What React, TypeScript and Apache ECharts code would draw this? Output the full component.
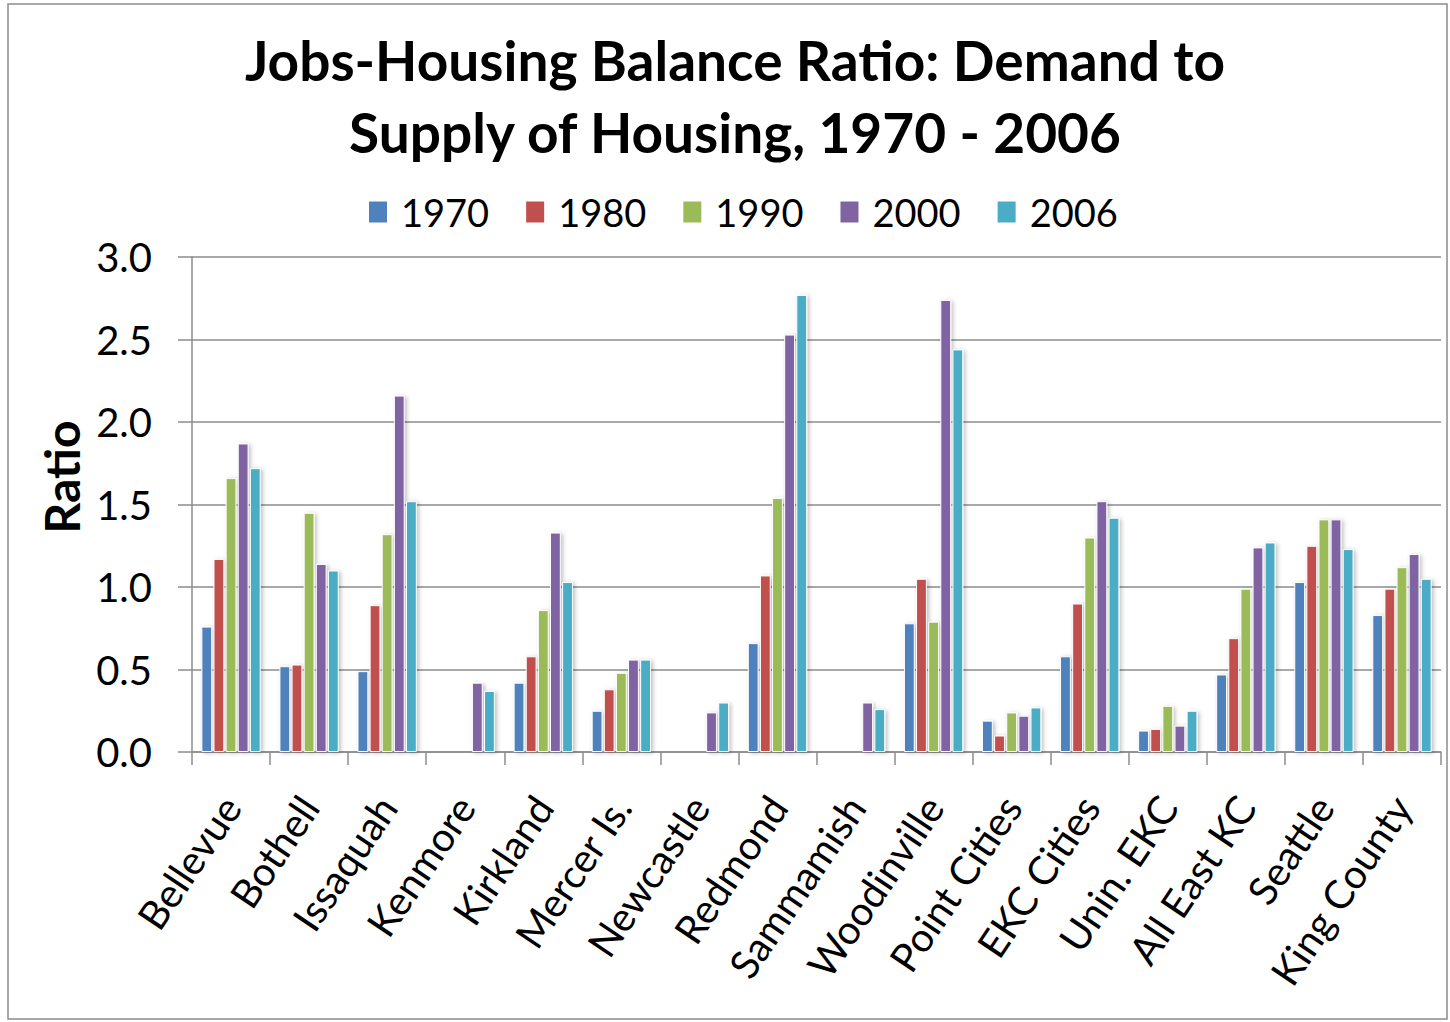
import React, { useEffect, useRef } from "react";
import * as echarts from "echarts";

const categories = [
  "Bellevue", "Bothell", "Issaquah", "Kenmore", "Kirkland", "Mercer Is.", "Newcastle", "Redmond",
  "Sammamish", "Woodinville", "Point Cities", "EKC Cities", "Unin. EKC", "All East KC", "Seattle", "King County",
];
const years = ["1970", "1980", "1990", "2000", "2006"];
const colors = ["#4F81BD", "#C0504D", "#9BBB59", "#8064A2", "#4BACC6"];

const v1970 = [0.76, 0.52, 0.49, null, 0.42, 0.25, null, 0.66, null, 0.78, 0.19, 0.58, 0.13, 0.47, 1.03, 0.83];
const v1980 = [1.17, 0.53, 0.89, null, 0.58, 0.38, null, 1.07, null, 1.05, 0.10, 0.90, 0.14, 0.69, 1.25, 0.99];
const v1990 = [1.66, 1.45, 1.32, null, 0.86, 0.48, null, 1.54, null, 0.79, 0.24, 1.30, 0.28, 0.99, 1.41, 1.12];
const v2000 = [1.87, 1.14, 2.16, 0.42, 1.33, 0.56, 0.24, 2.53, 0.30, 2.74, 0.22, 1.52, 0.16, 1.24, 1.41, 1.20];
const v2006 = [1.72, 1.10, 1.52, 0.37, 1.03, 0.56, 0.30, 2.77, 0.26, 2.44, 0.27, 1.42, 0.25, 1.27, 1.23, 1.05];
const seriesValues = [v1970, v1980, v1990, v2000, v2006];
const yTicks = [0, 0.5, 1, 1.5, 2, 2.5, 3];
const titleLines = ["Jobs-Housing Balance Ratio: Demand to", "Supply of Housing, 1970 - 2006"];
const yAxisTitle = "Ratio";

const FONT = "Lato, 'Open Sans', sans-serif";
const GREY = "#8c8c8c";

export default function App() {
  const ref = useRef<HTMLDivElement>(null);
  useEffect(() => {
    if (!ref.current) return;
    const chart = echarts.init(ref.current, null, { renderer: "svg" });
    chart.setOption({
      animation: false,
      backgroundColor: "#ffffff",
      title: {
        text: titleLines.join("\n"),
        left: 735,
        textAlign: "center",
        top: 24,
        padding: 0,
        textStyle: { fontFamily: FONT, fontWeight: "bold", fontSize: 55, lineHeight: 72, color: "#000" },
      },
      legend: {
        data: years,
        left: 369,
        top: 193,
        padding: 0,
        itemWidth: 18,
        itemHeight: 21,
        itemGap: 37,
        icon: "rect",
        itemStyle: { borderWidth: 0, shadowBlur: 0, shadowOffsetX: 0, shadowOffsetY: 0 },
        textStyle: { fontFamily: FONT, fontSize: 38, color: "#000", padding: [0, 0, 0, 9] },
      },
      grid: { left: 192, right: 9, top: 257, bottom: 270, containLabel: false },
      graphic: [
        {
          type: "rect",
          shape: { x: 8, y: 4, width: 1439, height: 1015 },
          style: { fill: "none", stroke: GREY, lineWidth: 1.5 },
          silent: true,
        },
        {
          type: "text",
          x: 61,
          y: 477,
          rotation: Math.PI / 2,
          style: {
            text: yAxisTitle,
            fontFamily: FONT,
            fontWeight: "bold",
            fontSize: 48,
            fill: "#000",
            align: "center",
            verticalAlign: "middle",
          },
        },
      ],
      xAxis: {
        type: "category",
        data: categories,
        axisLine: { lineStyle: { color: GREY, width: 1.5 } },
        axisTick: { show: true, length: 13, inside: false, lineStyle: { color: GREY, width: 1.5 } },
        axisLabel: { rotate: 56, margin: 48, fontFamily: FONT, fontSize: 40, color: "#000", interval: 0 },
      },
      yAxis: {
        type: "value",
        min: 0,
        max: 3,
        interval: 0.5,
        axisLine: { show: true, lineStyle: { color: GREY, width: 1.5 } },
        axisTick: { show: true, length: 14, lineStyle: { color: GREY, width: 1.5 } },
        splitLine: { show: true, lineStyle: { color: GREY, width: 1.5 } },
        axisLabel: {
          margin: 40,
          fontFamily: FONT,
          fontSize: 40,
          color: "#000",
          formatter: (v: number) => (yTicks.includes(v) ? v.toFixed(1) : ""),
        },
      },
      series: years.map((y, i) => ({
        name: y,
        type: "bar",
        data: seriesValues[i],
        barCategoryGap: "24%",
        barGap: "12%",
        itemStyle: {
          color: colors[i],
          borderColor: "#ffffff",
          borderWidth: 1,
          shadowBlur: 4,
          shadowColor: "rgba(0,0,0,0.25)",
          shadowOffsetX: 2,
          shadowOffsetY: 1,
        },
      })),
    });
    return () => chart.dispose();
  }, []);
  return (
    <div
      ref={ref}
      style={{ position: "fixed", left: 0, top: 0, width: 1450, height: 1022, background: "#fff" }}
    />
  );
}
